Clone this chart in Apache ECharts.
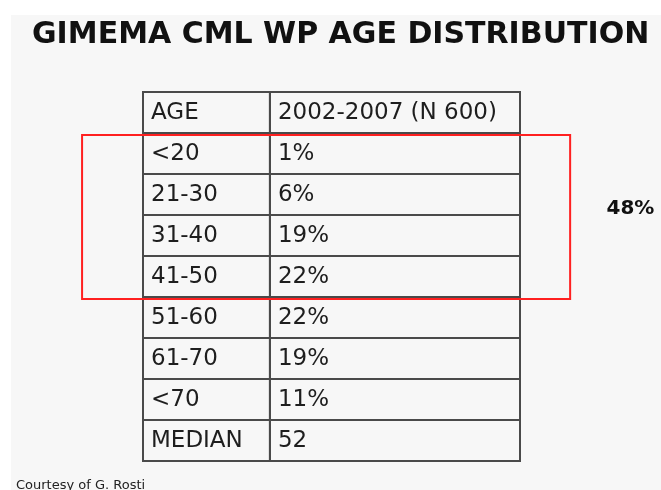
<!DOCTYPE html>
<html>
<head>
<meta charset="utf-8">
<script src="https://cdn.jsdelivr.net/npm/echarts@6/dist/echarts.min.js"></script>
<style>
html,body{margin:0;padding:0;background:#ffffff;}
#main{width:661px;height:490px;}
</style>
</head>
<body>
<div id="main"></div>
<script>
// ---- data ----
var titleText = 'GIMEMA CML WP AGE DISTRIBUTION';
var headers = ['AGE', '2002-2007 (N 600)'];
var ageGroups = ['<20', '21-30', '31-40', '41-50', '51-60', '61-70', '<70', 'MEDIAN'];
var shares = ['1%', '6%', '19%', '22%', '22%', '19%', '11%', '52'];
var highlightRows = [1, 4];          // table rows (1-based after header) boxed in red
var highlightLabel = '48%';
var footerText = 'Courtesy of G. Rosti';

// ---- build table rows ----
var rowLabels = ['header'].concat(ageGroups);
var cells = [];
cells.push([0, 0, headers[0]]);
cells.push([0, 1, headers[1]]);
ageGroups.forEach(function (g, i) {
  cells.push([i + 1, 0, g]);
  cells.push([i + 1, 1, shares[i]]);
});
// column spans in x-axis units
var colSpan = [[0, 1], [1, 2.97]];
var FONT = '"DejaVu Sans", "Open Sans", sans-serif';

var chart = echarts.init(document.getElementById('main'), null, {renderer: 'canvas'});
chart.setOption({
  backgroundColor: '#ffffff',
  animation: false,
  graphic: [{
    type: 'rect', left: 11, top: 15, z: -10,
    shape: {width: 650, height: 475},
    style: {fill: '#f7f7f7'}
  }],
  title: [{
    text: titleText,
    left: 27, top: 15,
    textStyle: {fontFamily: FONT, fontWeight: 'bold', fontSize: 30, color: '#111111'}
  }, {
    text: footerText,
    left: 11, top: 474,
    textStyle: {fontFamily: FONT, fontWeight: 'normal', fontSize: 13, color: '#222222'}
  }],
  grid: {left: 143, top: 92, right: 141, bottom: 29},
  xAxis: {type: 'value', min: 0, max: 2.97, show: false},
  yAxis: {type: 'category', data: rowLabels, inverse: true, show: false},
  series: [{
    type: 'custom',
    data: cells,
    encode: {x: 1, y: 0},
    renderItem: function (params, api) {
      var row = api.value(0), col = api.value(1);
      var span = colSpan[col];
      var p0 = api.coord([span[0], row]);
      var p1 = api.coord([span[1], row]);
      var h = api.size([0, 1])[1];
      return {
        type: 'group',
        children: [{
          type: 'rect',
          shape: {x: p0[0], y: p0[1] - h / 2, width: p1[0] - p0[0], height: h},
          style: {fill: 'none', stroke: '#4a4a4a', lineWidth: 2}
        }, {
          type: 'text',
          x: p0[0] + 8, y: p0[1] + 1,
          style: {
            text: cells[params.dataIndex][2],
            fontFamily: FONT, fontSize: 23, fill: '#1e1e1e',
            verticalAlign: 'middle', align: 'left'
          }
        }]
      };
    }
  }, {
    type: 'custom',
    clip: false,
    data: [[highlightRows[0], highlightRows[1]]],
    renderItem: function (params, api) {
      var r0 = api.value(0), r1 = api.value(1);
      var h = api.size([0, 1])[1];
      var a = api.coord([-0.48, r0]);
      var b = api.coord([3.365, r1]);
      var top = a[1] - h / 2 + 2, bottom = b[1] + h / 2 + 2;
      var c = api.coord([3.84, r0]);
      return {
        type: 'group',
        children: [{
          type: 'rect',
          shape: {x: a[0], y: top, width: b[0] - a[0], height: bottom - top},
          style: {fill: 'none', stroke: '#ff2020', lineWidth: 2}
        }, {
          type: 'text',
          x: c[0], y: (top + bottom) / 2 - 8,
          style: {
            text: highlightLabel,
            fontFamily: FONT, fontWeight: 'bold', fontSize: 20, fill: '#111111',
            verticalAlign: 'middle', align: 'center'
          }
        }]
      };
    }
  }]
});
</script>
</body>
</html>
